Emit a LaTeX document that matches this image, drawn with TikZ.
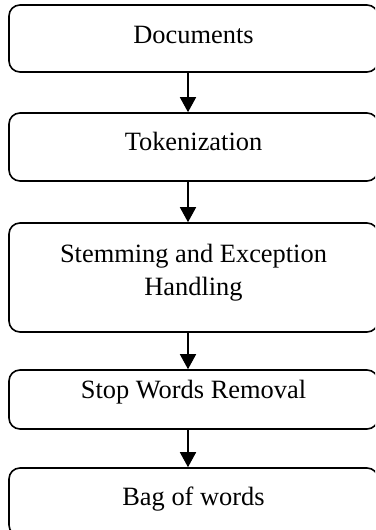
\documentclass[tikz,border=0pt]{standalone}
\usepackage{fontspec}
\setmainfont{Liberation Serif}
\usetikzlibrary{arrows.meta}
\tikzset{
  stage/.style={draw=black, line width=1.6pt, rounded corners=11pt,
    minimum width=369pt, inner sep=0pt},
  lbl/.style={inner sep=0pt, font=\fontsize{26.4pt}{33pt}\selectfont, align=center},
  flow/.style={line width=1.6pt, -{Triangle[width=16pt,length=15pt]}}
}
\begin{document}
\begin{tikzpicture}[x=1pt,y=-1pt]
  \useasboundingbox (0,0) rectangle (375,530);
  \clip (0,0) rectangle (375,530);
  % processing stages, top to bottom
  \node[stage, minimum height=67pt]  (b1) at (193.5,38.5) {};
  \node[stage, minimum height=68pt]  (b2) at (193.5,147) {};
  \node[stage, minimum height=109pt] (b3) at (193.5,277.5) {};
  \node[stage, minimum height=59pt]  (b4) at (193.5,399.5) {};
  \node[stage, minimum height=68pt]  (b5) at (193.5,502) {};
  % stage captions
  \node[lbl, anchor=base] (t1) at (193.5,43) {Documents};
  \node[lbl, anchor=base] (t2) at (193.5,150) {Tokenization};
  \node[lbl, anchor=base] (t3a) at (193.5,262) {Stemming and Exception};
  \node[lbl, anchor=base] (t3b) at (193.5,295) {Handling};
  \node[lbl, anchor=base] (t4) at (193.5,398) {Stop Words Removal};
  \node[lbl, anchor=base] (t5) at (193.5,505) {Bag of words};
  % arrows between stages
  \foreach \a/\b in {b1/b2, b2/b3, b3/b4, b4/b5}
    \draw[flow] ([xshift=-5.5pt]\a.south) -- ([xshift=-5.5pt]\b.north);
\end{tikzpicture}
\end{document}
